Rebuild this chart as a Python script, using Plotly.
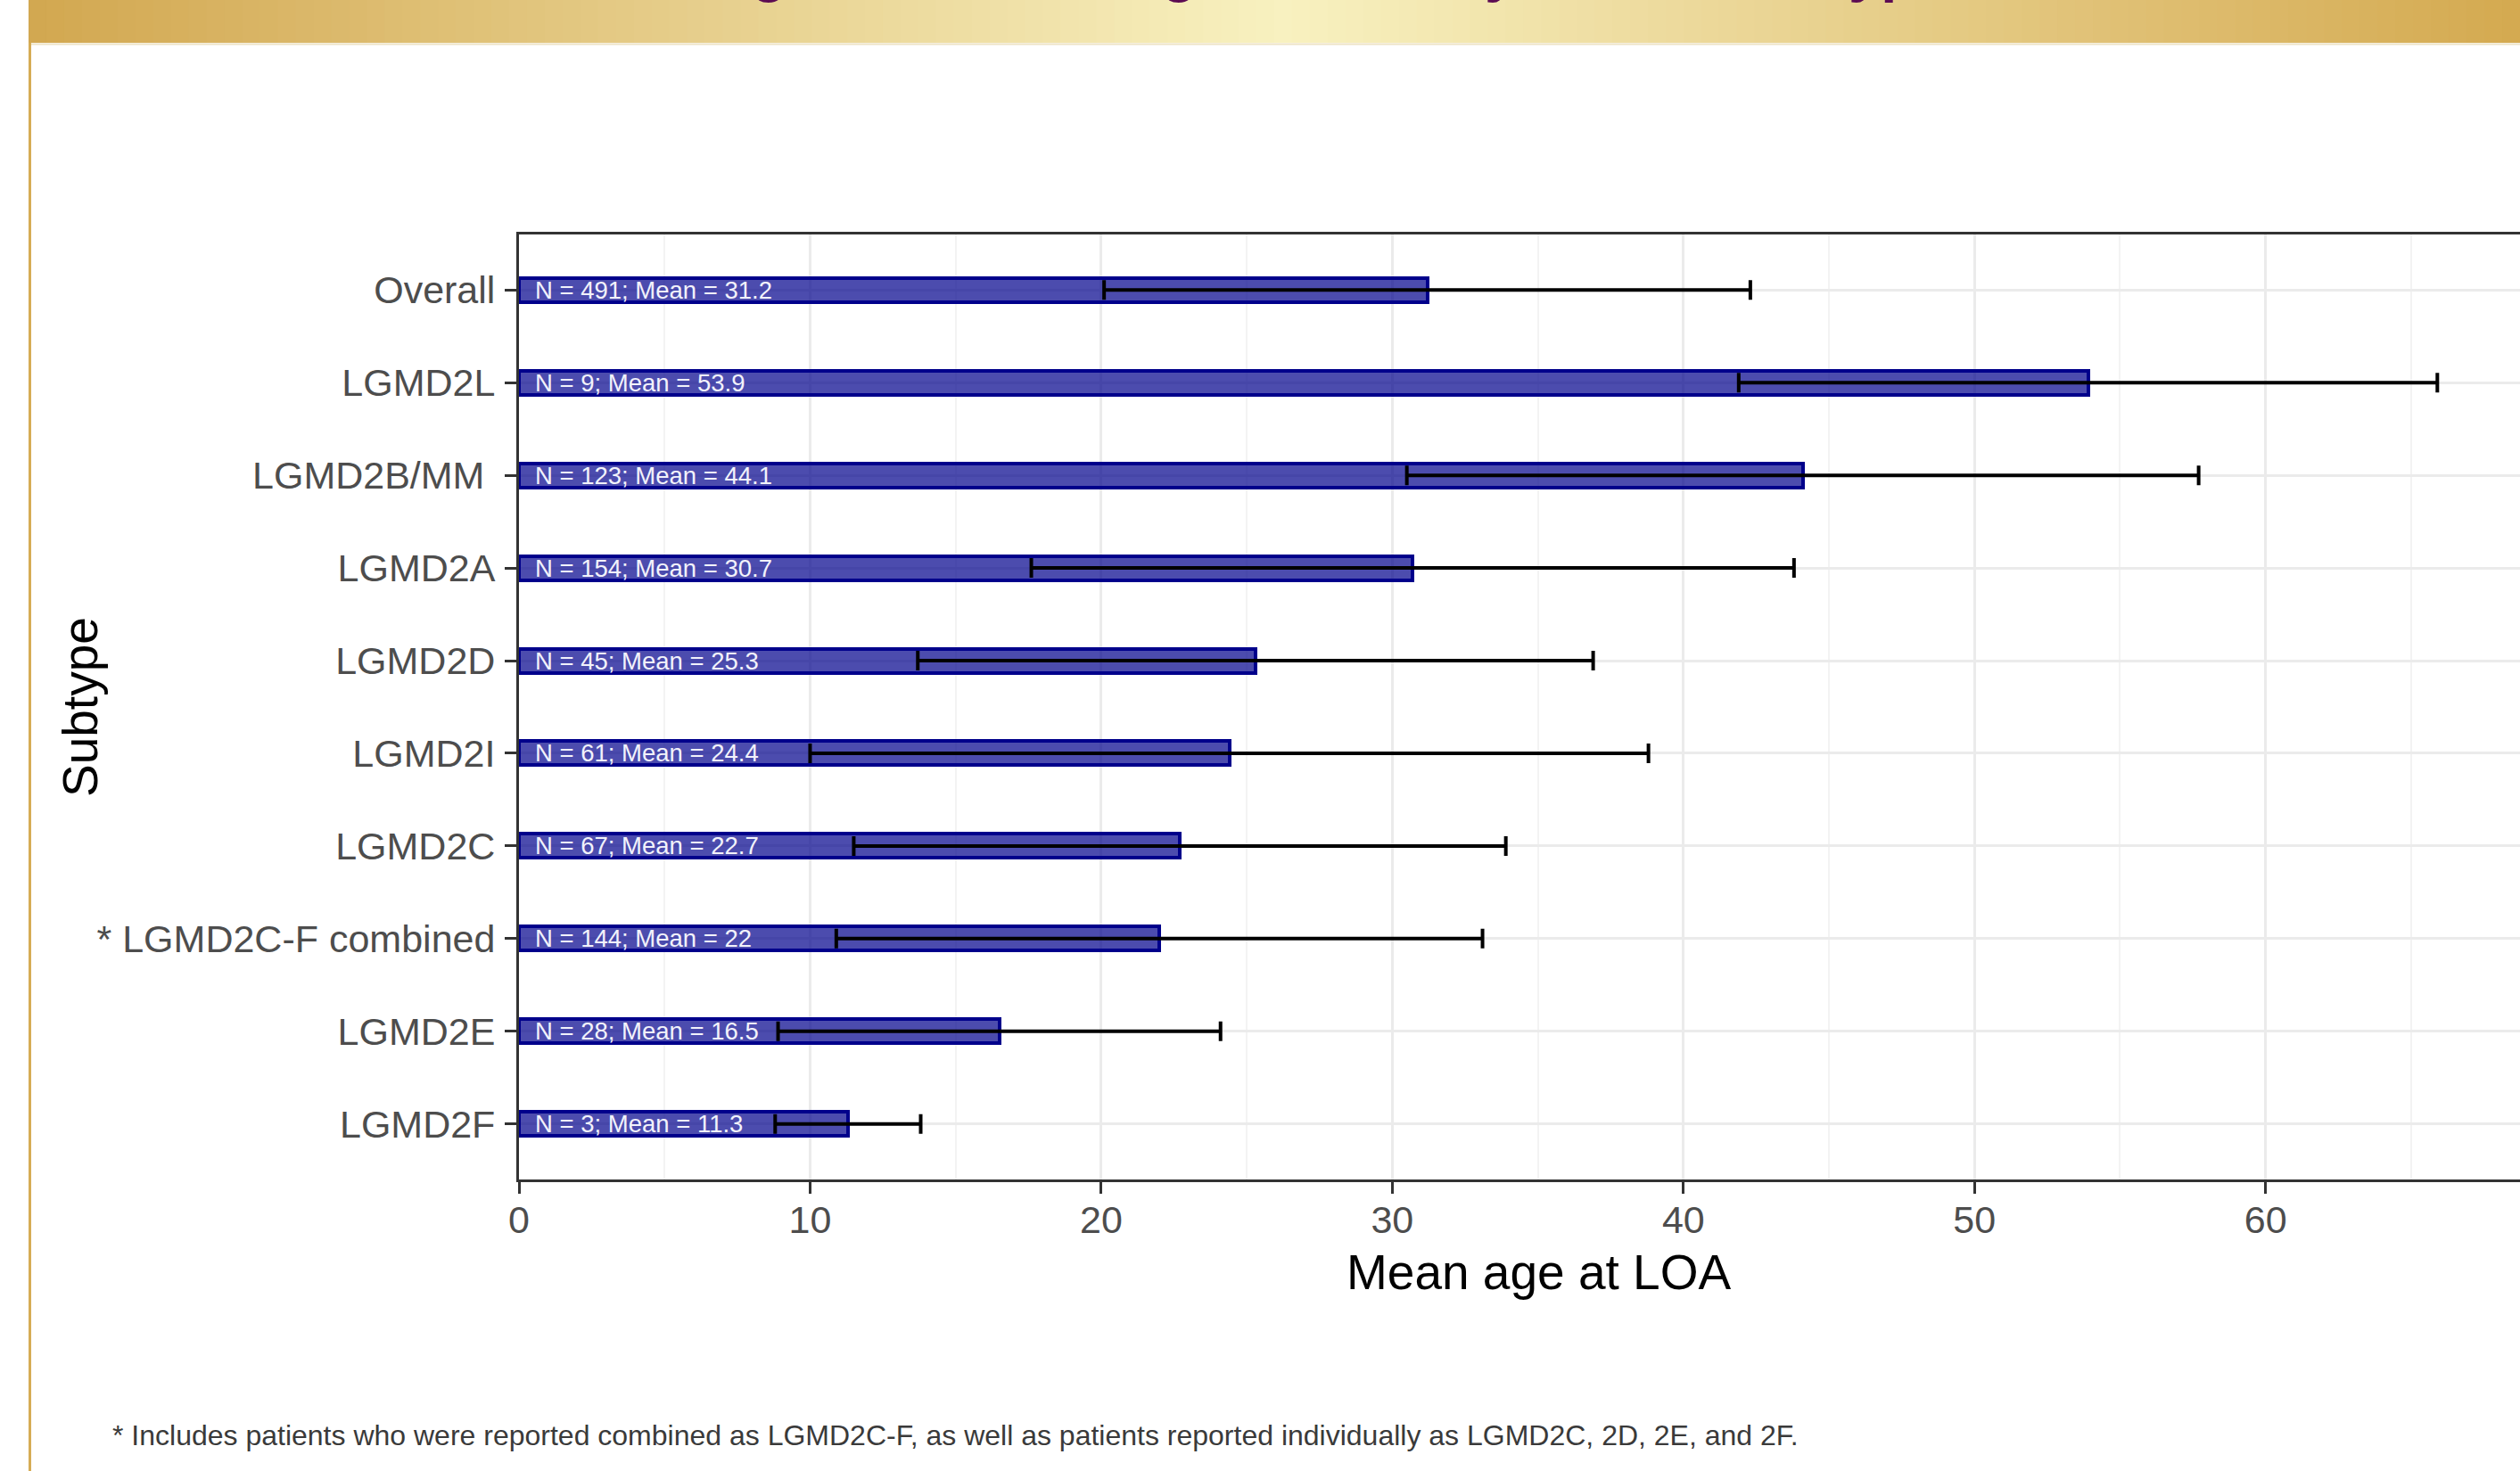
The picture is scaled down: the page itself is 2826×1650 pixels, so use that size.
import plotly.graph_objects as go

# ---------------- data ----------------
subtypes = ["Overall", "LGMD2L", "LGMD2B/MM\u00a0", "LGMD2A", "LGMD2D", "LGMD2I",
            "LGMD2C", "* LGMD2C-F combined", "LGMD2E", "LGMD2F"]
n_patients = [491, 9, 123, 154, 45, 61, 67, 144, 28, 3]
mean_age = [31.2, 53.9, 44.1, 30.7, 25.3, 24.4, 22.7, 22.0, 16.5, 11.3]
sd_age = [11.1, 12.0, 13.6, 13.1, 11.6, 14.4, 11.2, 11.1, 7.6, 2.5]
x_ticks = [0, 10, 20, 30, 40, 50, 60]

title_text = "Figure 2. Mean Age at LOA by LGMD Subtype"
x_title = "Mean age at LOA"
y_title = "Subtype"
footnote = ("* Includes patients who were reported combined as LGMD2C-F, as well as "
            "patients reported individually as LGMD2C, 2D, 2E, and 2F.")

# ---------------- geometry ----------------
W, H = 2826, 1650
ML, MR, MT, MB = 582, 0, 263, 327
PW, PH = W - ML - MR, H - MT - MB
PX_PER_UNIT = 32.645
X_MAX = PW / PX_PER_UNIT


def px(sx):
    return (sx - ML) / PW


def py(sy):
    return 1 - (sy - MT) / PH


FONT = "Liberation Sans, Arial, sans-serif"

fig = go.Figure()

fig.add_trace(go.Bar(
    x=mean_age, y=subtypes, orientation="h", width=0.26,
    marker=dict(color="rgba(0,0,139,0.7)", line=dict(color="#00008B", width=4)),
    error_x=dict(type="data", array=sd_age, symmetric=True, color="black",
                 thickness=4, width=11),
    hoverinfo="skip", showlegend=False,
))

annotations = []
for s, n, m in zip(subtypes, n_patients, mean_age):
    annotations.append(dict(
        x=0, y=s, xref="x", yref="y", xanchor="left", yanchor="middle",
        xshift=16, showarrow=False, text=f"N = {n}; Mean = {m:g}",
        font=dict(family=FONT, size=27.5, color="#F2F2FB"),
    ))

# axis titles, footnote, slide title
annotations.append(dict(x=px(1725), y=py(1427), xref="paper", yref="paper",
                        xanchor="center", yanchor="middle", showarrow=False,
                        text=x_title, font=dict(family=FONT, size=55, color="black")))
annotations.append(dict(x=px(90), y=0.5, xref="paper", yref="paper",
                        xanchor="center", yanchor="middle", showarrow=False,
                        textangle=-90, text=y_title,
                        font=dict(family=FONT, size=55, color="black")))
annotations.append(dict(x=px(124), y=py(1610), xref="paper", yref="paper",
                        xanchor="left", yanchor="middle", showarrow=False,
                        text=footnote, font=dict(family=FONT, size=32, color="#3A3A3A")))
annotations.append(dict(x=px(783), y=py(-33), xref="paper", yref="paper",
                        xanchor="left", yanchor="middle", showarrow=False,
                        text=title_text,
                        font=dict(family=FONT, size=65, color="#5C0B52", weight=700)))

# header gradient band
shapes = []
stops = [(32, (210, 167, 80)), (1440, (248, 241, 192)), (2826, (212, 169, 80))]


def grad(sx):
    for (a, ca), (b, cb) in zip(stops[:-1], stops[1:]):
        if a <= sx <= b:
            t = (sx - a) / (b - a)
            return tuple(round(ca[i] + t * (cb[i] - ca[i])) for i in range(3))
    return stops[-1][1]


NSLICE = 140
x_edges = [32 + (W - 32) * i / NSLICE for i in range(NSLICE + 1)]
for i in range(NSLICE):
    a, b = x_edges[i], x_edges[i + 1]
    c = grad((a + b) / 2)
    shapes.append(dict(type="rect", xref="paper", yref="paper",
                       x0=px(a), x1=px(b + 1), y0=py(48), y1=py(0),
                       fillcolor="rgb(%d,%d,%d)" % c, line=dict(width=0), layer="below"))
shapes.append(dict(type="line", xref="paper", yref="paper", x0=px(32), x1=px(W),
                   y0=py(49.5), y1=py(49.5), line=dict(color="#EDE3C6", width=2),
                   layer="below"))
shapes.append(dict(type="line", xref="paper", yref="paper", x0=px(33.5), x1=px(33.5),
                   y0=py(48), y1=py(H), line=dict(color="#D6AC55", width=3),
                   layer="below"))

fig.update_layout(
    width=W, height=H,
    margin=dict(l=ML, r=MR, t=MT, b=MB, pad=0),
    paper_bgcolor="white", plot_bgcolor="white",
    font=dict(family=FONT),
    showlegend=False,
    bargap=0,
    annotations=annotations,
    shapes=shapes,
    xaxis=dict(
        range=[0, X_MAX], tickvals=x_ticks, ticktext=[str(v) for v in x_ticks],
        showgrid=True, gridcolor="#EBEBEB", gridwidth=3,
        minor=dict(dtick=5, tick0=0, showgrid=True, gridcolor="#F3F3F3", gridwidth=1.5),
        ticks="outside", ticklen=13, tickwidth=3, tickcolor="#333333",
        ticklabelstandoff=-8,
        showline=True, linecolor="#333333", linewidth=3, mirror=True,
        zeroline=False, tickfont=dict(family=FONT, size=43, color="#4D4D4D"),
    ),
    yaxis=dict(
        type="category", categoryorder="array", categoryarray=subtypes,
        range=[len(subtypes) - 0.4, -0.6],
        showgrid=True, gridcolor="#EBEBEB", gridwidth=3,
        ticks="outside", ticklen=13, tickwidth=3, tickcolor="#333333",
        ticklabelstandoff=2,
        showline=True, linecolor="#333333", linewidth=3, mirror=False,
        zeroline=False, tickfont=dict(family=FONT, size=43, color="#4D4D4D"),
    ),
)

fig.write_html(
    "out.html",
    config={"displayModeBar": False},
    post_script="document.body.style.margin='0';document.body.style.overflow='hidden';",
)
